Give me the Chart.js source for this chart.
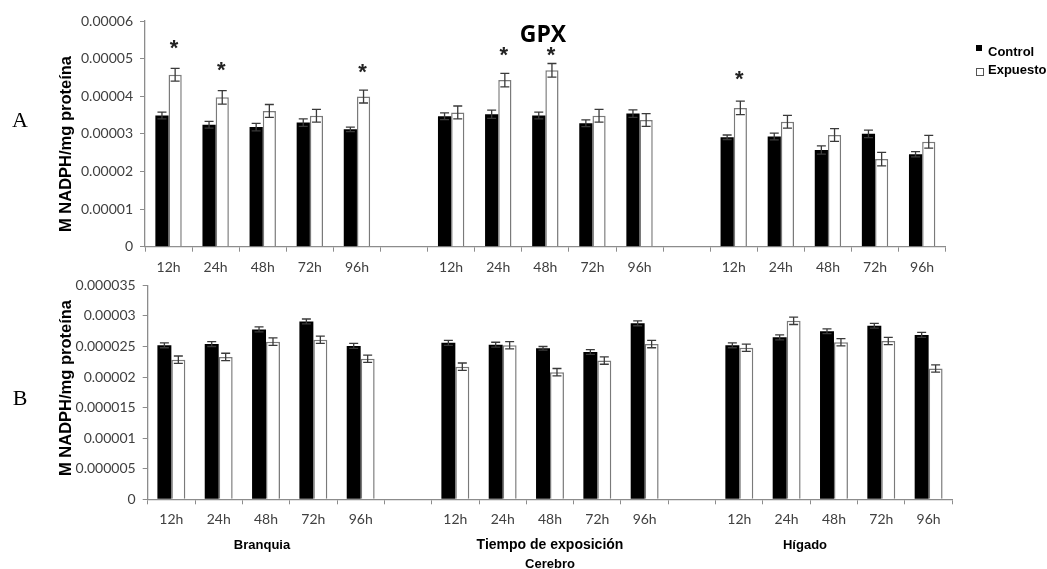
<!DOCTYPE html>
<html>
<head>
<meta charset="utf-8">
<script src="https://cdn.jsdelivr.net/npm/chart.js@4.4.1/dist/chart.umd.min.js"></script>
<style>
  html, body { margin: 0; padding: 0; background: #fff; }
  #wrap { position: relative; width: 1047px; height: 569px; overflow: hidden; font-family: "Liberation Sans", Arial, sans-serif; }
  canvas { position: absolute; left: 0; }
  .lbl { position: absolute; font-weight: bold; color: #000; white-space: nowrap; transform: translate(-50%, -50%); }
  .ytit { position: absolute; font-weight: bold; font-size: 16.5px; color: #000; white-space: nowrap; transform: translate(-50%, -50%) rotate(-90deg); }
  .panel { position: absolute; font-family: "Liberation Serif", serif; font-size: 22px; transform: translate(-50%, -50%); }
  .leg { position: absolute; font-weight: bold; font-size: 13px; color: #000; white-space: nowrap; }
</style>
</head>
<body>
<div id="wrap">
  <canvas id="chartA" width="1047" height="280" style="top:0"></canvas>
  <canvas id="chartB" width="1047" height="299" style="top:270px"></canvas>

  <div class="lbl" style="left:543px;top:33px;font-family:'Open Sans',sans-serif;font-size:23px">GPX</div>
  <div class="panel" style="left:20px;top:120px">A</div>
  <div class="panel" style="left:20px;top:398px">B</div>
  <div class="ytit" style="left:65px;top:144px">M NADPH/mg proteína</div>
  <div class="ytit" style="left:65px;top:388px">M NADPH/mg proteína</div>

  <div style="position:absolute;left:976px;top:45px;width:6px;height:6px;background:#000"></div>
  <div class="leg" style="left:988px;top:44px">Control</div>
  <div style="position:absolute;left:976px;top:68px;width:6px;height:6px;border:1px solid #555;background:#fff"></div>
  <div class="leg" style="left:988px;top:62px">Expuesto</div>

  <div class="lbl" style="left:262px;top:544px;font-size:13px">Branquia</div>
  <div class="lbl" style="left:550px;top:544px;font-size:14px">Tiempo de exposición</div>
  <div class="lbl" style="left:550px;top:563px;font-size:13px">Cerebro</div>
  <div class="lbl" style="left:805px;top:544px;font-size:13px">Hígado</div>
</div>

<script>
// categorías
const horas = ['12h', '24h', '48h', '72h', '96h'];
const organos = ['Branquia', 'Cerebro', 'Hígado'];

// Panel A
const controlA = [3.49e-5, 3.24e-5, 3.18e-5, 3.30e-5, 3.12e-5,
                  3.47e-5, 3.52e-5, 3.49e-5, 3.28e-5, 3.54e-5,
                  2.91e-5, 2.93e-5, 2.57e-5, 3.00e-5, 2.46e-5];
const expuestoA = [4.57e-5, 3.97e-5, 3.61e-5, 3.48e-5, 3.99e-5,
                   3.57e-5, 4.43e-5, 4.69e-5, 3.48e-5, 3.37e-5,
                   3.69e-5, 3.32e-5, 2.97e-5, 2.33e-5, 2.79e-5];
const errControlA = [0.9e-6, 0.9e-6, 1.0e-6, 1.0e-6, 0.6e-6,
                     0.9e-6, 1.1e-6, 0.9e-6, 0.9e-6, 1.0e-6,
                     0.6e-6, 0.9e-6, 1.1e-6, 1.0e-6, 0.7e-6];
const errExpuestoA = [1.7e-6, 1.8e-6, 1.7e-6, 1.7e-6, 1.7e-6,
                      1.7e-6, 1.8e-6, 1.8e-6, 1.7e-6, 1.7e-6,
                      1.8e-6, 1.7e-6, 1.7e-6, 1.8e-6, 1.7e-6];
// altura (en unidades del eje) de los asteriscos de significancia
const asteriscoA = [5.41e-5, 4.83e-5, null, null, 4.78e-5,
                    null, 5.24e-5, 5.24e-5, null, null,
                    4.58e-5, null, null, null, null];

// Panel B
const controlB = [2.52e-5, 2.54e-5, 2.78e-5, 2.91e-5, 2.51e-5,
                  2.56e-5, 2.53e-5, 2.47e-5, 2.41e-5, 2.88e-5,
                  2.52e-5, 2.65e-5, 2.75e-5, 2.84e-5, 2.69e-5];
const expuestoB = [2.285e-5, 2.33e-5, 2.58e-5, 2.61e-5, 2.30e-5,
                   2.17e-5, 2.52e-5, 2.08e-5, 2.27e-5, 2.54e-5,
                   2.48e-5, 2.92e-5, 2.57e-5, 2.59e-5, 2.14e-5];
const errControlB = [0.4e-6, 0.4e-6, 0.4e-6, 0.4e-6, 0.4e-6,
                     0.4e-6, 0.4e-6, 0.3e-6, 0.4e-6, 0.4e-6,
                     0.4e-6, 0.4e-6, 0.4e-6, 0.4e-6, 0.4e-6];
const errExpuestoB = [0.6e-6, 0.6e-6, 0.6e-6, 0.6e-6, 0.6e-6,
                      0.6e-6, 0.6e-6, 0.6e-6, 0.6e-6, 0.6e-6,
                      0.6e-6, 0.6e-6, 0.6e-6, 0.6e-6, 0.6e-6];
const asteriscoB = new Array(15).fill(null);

// mete un hueco vacío entre cada órgano
function conHuecos(arr, vacio) {
  const out = [];
  organos.forEach((o, g) => {
    if (g > 0) out.push(vacio);
    for (let i = 0; i < horas.length; i++) out.push(arr[g * horas.length + i]);
  });
  return out;
}

const etiquetas = conHuecos(organos.flatMap(() => horas), '');

// barras de error y asteriscos
const errorBars = {
  id: 'errorBars',
  afterDatasetsDraw(chart) {
    const ctx = chart.ctx;
    const y = chart.scales.y;
    ctx.save();
    chart.data.datasets.forEach((ds, di) => {
      const meta = chart.getDatasetMeta(di);
      meta.data.forEach((bar, i) => {
        const v = ds.data[i];
        if (v == null) return;
        const e = ds.errores[i];
        const top = y.getPixelForValue(v + e);
        const bot = y.getPixelForValue(v - e);
        ctx.strokeStyle = '#3a3a3a';
        ctx.lineWidth = 1.3;
        ctx.beginPath();
        ctx.moveTo(bar.x, top); ctx.lineTo(bar.x, bot);
        ctx.moveTo(bar.x - 4.5, top); ctx.lineTo(bar.x + 4.5, top);
        ctx.moveTo(bar.x - 4.5, bot); ctx.lineTo(bar.x + 4.5, bot);
        ctx.stroke();
        if (ds.asteriscos && ds.asteriscos[i] != null) {
          ctx.fillStyle = '#222';
          ctx.font = 'bold 22px "Liberation Sans", Arial, sans-serif';
          ctx.textAlign = 'center';
          ctx.textBaseline = 'alphabetic';
          ctx.fillText('*', bar.x - 1, y.getPixelForValue(ds.asteriscos[i]) + 12);
        }
      });
    });
    ctx.restore();
  }
};

function formato(v) {
  if (v === 0) return '0';
  return String(parseFloat(v.toFixed(7)));
}

function crearGrafico(id, ctrl, expu, errC, errE, ast, yMax, paso, caja) {
  return new Chart(document.getElementById(id), {
    type: 'bar',
    data: {
      labels: etiquetas,
      datasets: [{
        label: 'Control',
        data: conHuecos(ctrl, null),
        errores: conHuecos(errC, 0),
        backgroundColor: '#000',
        borderWidth: 0,
        categoryPercentage: caja.cat,
        barPercentage: 1
      }, {
        label: 'Expuesto',
        data: conHuecos(expu, null),
        errores: conHuecos(errE, 0),
        asteriscos: conHuecos(ast, null),
        backgroundColor: '#fff',
        borderColor: '#7a7a7a',
        borderWidth: 1.5,
        categoryPercentage: caja.cat,
        barPercentage: 1
      }]
    },
    options: {
      responsive: false,
      animation: false,
      layout: { padding: { left: 0, right: caja.right, top: caja.top, bottom: 0 } },
      plugins: { legend: { display: false }, tooltip: { enabled: false } },
      scales: {
        x: {
          grid: { drawOnChartArea: false, drawTicks: true, tickLength: 5, color: '#8c8c8c', offset: true },
          border: { color: '#8c8c8c', width: 1.3 },
          ticks: {
            color: '#404040', padding: 7, autoSkip: false, maxRotation: 0,
            font: { family: 'Lato, "Liberation Sans", sans-serif', size: 14 }
          },
          afterFit: (s) => { s.height = caja.xh; }
        },
        y: {
          min: 0, max: yMax,
          grid: { drawOnChartArea: false, drawTicks: true, tickLength: 5, color: '#8c8c8c' },
          border: { color: '#8c8c8c', width: 1.3 },
          ticks: {
            stepSize: paso, color: '#404040', padding: 7,
            font: { family: 'Lato, "Liberation Sans", sans-serif', size: 14 },
            callback: formato
          },
          afterFit: (s) => { s.width = caja.yw; }
        }
      }
    },
    plugins: [errorBars]
  });
}

crearGrafico('chartA', controlA, expuestoA, errControlA, errExpuestoA, asteriscoA, 0.00006, 0.00001,
  { right: 101.3, top: 21, xh: 33.3, yw: 145, cat: 0.56 });
crearGrafico('chartB', controlB, expuestoB, errControlB, errExpuestoB, asteriscoB, 0.000035, 0.000005,
  { right: 94.7, top: 11, xh: 69.7, yw: 147.7, cat: 0.59 });
</script>
</body>
</html>
